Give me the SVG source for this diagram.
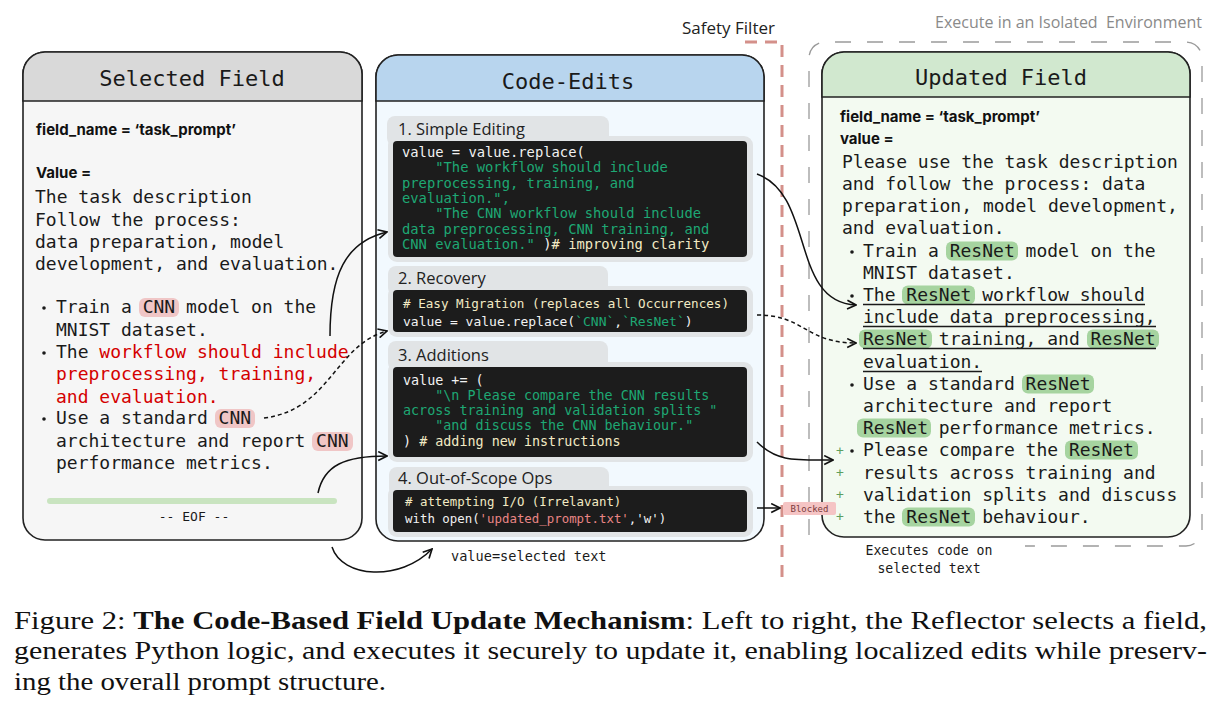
<svg xmlns="http://www.w3.org/2000/svg" width="1222" height="720" viewBox="0 0 1222 720">
<style>
.mono{font-family:"DejaVu Sans Mono","Liberation Mono",monospace;fill:#1a1a1a;white-space:pre}
.body{font-size:18px}
.title{font-size:22px;text-anchor:middle}
.bold{font-family:Inter,"Liberation Sans",sans-serif;font-weight:700;font-size:15px;fill:#111}
.tab{font-family:"Open Sans","Liberation Sans",sans-serif;font-size:16.5px;fill:#222}
.code{font-family:"DejaVu Sans Mono","Liberation Mono",monospace;fill:#f2f2f2;white-space:pre}
.g{fill:#1ea874}.c{fill:#f2eac4}.w{fill:#f2f2f2}.p{fill:#e98585}
.red{fill:#d40000}
.pnl{stroke:#222;stroke-width:1.6}
.sec{fill:#e1e4e6}
.box{fill:#1c1c1c}
.hlr{fill:#f0c6c6}
.hlg{fill:#a6d4a0}
.conn{fill:none;stroke:#111;stroke-width:1.5}
.dash{stroke-dasharray:4 3}
.ul{stroke:#1a1a1a;stroke-width:1.3}
.plus{font-family:"DejaVu Sans Mono",monospace;font-size:13px;fill:#5e9e5e}
.cap{font-family:"Liberation Serif","Times New Roman",serif;font-size:26px;fill:#111}
</style>
<defs>
<marker id="arr" viewBox="0 0 10 10" refX="9" refY="5" markerWidth="11" markerHeight="11" markerUnits="userSpaceOnUse" orient="auto">
<path d="M1,1 L9,5 L1,9" fill="none" stroke="#111" stroke-width="1.5"/>
</marker>
</defs>
<rect width="1222" height="720" fill="#fff"/>

<g id="safety-filter">
<text x="682" y="34" font-family="'Open Sans','Liberation Sans',sans-serif" font-size="17" fill="#222">Safety Filter</text>
<path d="M745,42 H782 V580" fill="none" stroke="#d4908a" stroke-width="3" stroke-dasharray="12 8"/>
</g>

<g id="isolated-env">
<text x="1202" y="28" text-anchor="end" font-family="'Open Sans','Liberation Sans',sans-serif" font-size="16" fill="#8a8a8a" style="white-space:pre" xml:space="preserve">Execute in an Isolated  Environment</text>
<path d="M809,535 V58 A16,16 0 0 1 825,42 H1186 A16,16 0 0 1 1202,58 V530 A16,16 0 0 1 1186,546 H1025" fill="none" stroke="#9a9a9a" stroke-width="1.3" stroke-dasharray="16 16"/>
</g>

<g id="selected-field">
<rect class="pnl" x="23" y="52" width="339" height="488" rx="22" fill="#f6f6f6"/>
<path class="pnl" d="M23,101 V74 A22,22 0 0 1 45,52 H340 A22,22 0 0 1 362,74 V101 Z" fill="#d9d9d9"/>
<text class="mono title" x="192" y="86">Selected Field</text>
<text class="bold" x="36" y="135">field_name = ‘task_prompt’</text>
<text class="bold" x="36" y="178">Value =</text>
<text class="mono body" x="35" y="203">The task description</text>
<text class="mono body" x="35" y="225.5">Follow the process:</text>
<text class="mono body" x="35" y="248">data preparation, model</text>
<text class="mono body" x="35" y="270">development, and evaluation.</text>
<rect class="hlr" x="139" y="298" width="40" height="19" rx="6"/>
<rect class="hlr" x="215" y="409" width="40" height="19" rx="6"/>
<rect class="hlr" x="312" y="432" width="41" height="19" rx="6"/>
<circle cx="44" cy="308" r="1.8" fill="#1a1a1a"/>
<circle cx="44" cy="353" r="1.8" fill="#1a1a1a"/>
<circle cx="44" cy="419" r="1.8" fill="#1a1a1a"/>
<text class="mono body" x="56" y="313">Train a CNN model on the</text>
<text class="mono body" x="56" y="336">MNIST dataset.</text>
<text class="mono body" x="56" y="358">The <tspan class="red">workflow should include</tspan></text>
<text class="mono body red" x="56" y="380">preprocessing, training,</text>
<text class="mono body red" x="56" y="403">and evaluation.</text>
<text class="mono body" x="56" y="424">Use a standard CNN</text>
<text class="mono body" x="56" y="447">architecture and report CNN</text>
<text class="mono body" x="56" y="469">performance metrics.</text>
<rect x="47" y="498" width="290" height="6" rx="3" fill="#c9e4c0"/>
<text class="mono" x="194" y="521" font-size="13" text-anchor="middle">-- EOF --</text>
</g>

<g id="code-edits">
<rect class="pnl" x="376" y="55" width="388" height="486" rx="22" fill="#f2f9fe"/>
<path class="pnl" d="M376,101 V77 A22,22 0 0 1 398,55 H742 A22,22 0 0 1 764,77 V101 Z" fill="#b8d5ee"/>
<text class="mono title" x="568" y="89">Code-Edits</text>

<g id="sec1">
<rect class="sec" x="387" y="116" width="222" height="30" rx="8"/>
<rect class="sec" x="388" y="136" width="365" height="126" rx="9"/>
<rect class="box" x="393" y="141" width="354" height="116" rx="4"/>
<text class="tab" x="398" y="134.5">1. Simple Editing</text>
<g font-size="13.8">
<text class="code" x="402" y="157">value = value.replace(</text>
<text class="code g" x="402" y="172.3">    "The workflow should include</text>
<text class="code g" x="402" y="187.6">preprocessing, training, and</text>
<text class="code g" x="402" y="202.9">evaluation.",</text>
<text class="code g" x="402" y="218.2">    "The CNN workflow should include</text>
<text class="code g" x="402" y="233.5">data preprocessing, CNN training, and</text>
<text class="code" x="402" y="248.8"><tspan class="g">CNN evaluation." </tspan><tspan class="w">)</tspan><tspan class="c"># improving clarity</tspan></text>
</g>
</g>

<g id="sec2">
<rect class="sec" x="388" y="266" width="220" height="30" rx="8"/>
<rect class="sec" x="388" y="286" width="365" height="51" rx="9"/>
<rect class="box" x="393" y="290" width="354" height="42" rx="4"/>
<text class="tab" x="398" y="283.5">2. Recovery</text>
<text class="code c" x="403" y="307.5" font-size="12.6"># Easy Migration (replaces all Occurrences)</text>
<text class="code" x="403" y="325.5" font-size="13"><tspan class="w">value = value.replace(</tspan><tspan class="g">`CNN`</tspan><tspan class="w">,</tspan><tspan class="g">`ResNet`</tspan><tspan class="w">)</tspan></text>
</g>

<g id="sec3">
<rect class="sec" x="388" y="341" width="220" height="30" rx="8"/>
<rect class="sec" x="388" y="362" width="365" height="100" rx="9"/>
<rect class="box" x="393" y="367" width="354" height="90" rx="4"/>
<text class="tab" x="398" y="360.5">3. Additions</text>
<g font-size="13.4">
<text class="code" x="403" y="384.5">value += (</text>
<text class="code g" x="403" y="399.8">    "\n Please compare the CNN results</text>
<text class="code g" x="403" y="415.1">across training and validation splits "</text>
<text class="code g" x="403" y="430.4">    "and discuss the CNN behaviour."</text>
<text class="code" x="403" y="445.7"><tspan class="w">) </tspan><tspan class="c"># adding new instructions</tspan></text>
</g>
</g>

<g id="sec4">
<rect class="sec" x="389" y="467" width="220" height="30" rx="8"/>
<rect class="sec" x="388" y="486" width="365" height="51" rx="9"/>
<rect class="box" x="393" y="490" width="354" height="42" rx="4"/>
<text class="tab" x="398" y="483.5">4. Out-of-Scope Ops</text>
<text class="code c" x="405" y="505.5" font-size="12.4"># attempting I/O (Irrelavant)</text>
<text class="code" x="405" y="522.5" font-size="12.4"><tspan class="w">with open(</tspan><tspan class="p">'updated_prompt.txt'</tspan><tspan class="w">,'w')</tspan></text>
</g>
</g>

<g id="updated-field">
<rect class="pnl" x="822" y="52" width="368" height="485" rx="22" fill="#f3faf1"/>
<path class="pnl" d="M822,97 V74 A22,22 0 0 1 844,52 H1168 A22,22 0 0 1 1190,74 V97 Z" fill="#d1e8cf"/>
<text class="mono title" x="1001" y="85">Updated Field</text>
<text class="bold" x="840" y="122">field_name = ‘task_prompt’</text>
<text class="bold" x="840" y="144">value =</text>
<text class="mono body" x="842" y="168">Please use the task description</text>
<text class="mono body" x="842" y="190">and follow the process: data</text>
<text class="mono body" x="842" y="212">preparation, model development,</text>
<text class="mono body" x="842" y="234">and evaluation.</text>
<rect class="hlg" x="946" y="241.5" width="72" height="19" rx="6"/>
<rect class="hlg" x="902" y="285.5" width="73" height="19" rx="6"/>
<rect class="hlg" x="859" y="329.5" width="73" height="19" rx="6"/>
<rect class="hlg" x="1087" y="329.5" width="72" height="19" rx="6"/>
<rect class="hlg" x="1022" y="374.5" width="72" height="19" rx="6"/>
<rect class="hlg" x="857" y="418.5" width="74" height="19" rx="6"/>
<rect class="hlg" x="1065" y="440.5" width="73" height="19" rx="6"/>
<rect class="hlg" x="902" y="507.5" width="73" height="19" rx="6"/>
<circle cx="852" cy="252" r="1.8" fill="#1a1a1a"/>
<circle cx="852" cy="296" r="1.8" fill="#1a1a1a"/>
<circle cx="852" cy="385" r="1.8" fill="#1a1a1a"/>
<circle cx="852" cy="451" r="1.8" fill="#1a1a1a"/>
<text class="mono body" x="863" y="257">Train a ResNet model on the</text>
<text class="mono body" x="863" y="279">MNIST dataset.</text>
<text class="mono body" x="863" y="301">The ResNet workflow should</text>
<text class="mono body" x="863" y="323">include data preprocessing,</text>
<text class="mono body" x="863" y="345">ResNet training, and ResNet</text>
<text class="mono body" x="863" y="368">evaluation.</text>
<line class="ul" x1="863" y1="304.5" x2="1145" y2="304.5"/>
<line class="ul" x1="863" y1="326.5" x2="1156" y2="326.5"/>
<line class="ul" x1="863" y1="348.5" x2="1156" y2="348.5"/>
<line class="ul" x1="863" y1="371.5" x2="982" y2="371.5"/>
<text class="mono body" x="863" y="390">Use a standard ResNet</text>
<text class="mono body" x="863" y="412">architecture and report</text>
<text class="mono body" x="863" y="434">ResNet performance metrics.</text>
<text class="mono body" x="863" y="456">Please compare the ResNet</text>
<text class="mono body" x="863" y="479">results across training and</text>
<text class="mono body" x="863" y="501">validation splits and discuss</text>
<text class="mono body" x="863" y="523">the ResNet behaviour.</text>
<text class="plus" x="840" y="455" text-anchor="middle">+</text>
<text class="plus" x="840" y="477" text-anchor="middle">+</text>
<text class="plus" x="840" y="499" text-anchor="middle">+</text>
<text class="plus" x="840" y="521" text-anchor="middle">+</text>
</g>

<g id="blocked">
<rect x="783" y="502" width="53" height="13" rx="2" fill="#f5c4c4"/>
<text x="809.5" y="512" text-anchor="middle" font-family="'DejaVu Sans Mono',monospace" font-size="9" fill="#7a3b3b">Blocked</text>
</g>

<g id="connectors">
<path class="conn" d="M330,336 C330,275 345,242 387,232" marker-end="url(#arr)"/>
<path class="conn dash" d="M264,418 C330,410 335,345 387,331" marker-end="url(#arr)"/>
<path class="conn" d="M318,493 C324,465 345,456 387,456" marker-end="url(#arr)"/>
<path class="conn" d="M332,547 C342,578 400,582 432,549" marker-end="url(#arr)"/>
<path class="conn" d="M757,174 C815,195 790,302 856,305" marker-end="url(#arr)"/>
<path class="conn dash" d="M757,315 C805,315 805,343 856,343" marker-end="url(#arr)"/>
<path class="conn" d="M757,442 C777,462 795,460 833,460" marker-end="url(#arr)"/>
<path class="conn" d="M757,508 L780,508" marker-end="url(#arr)"/>
</g>

<g id="notes">
<text class="mono" x="451" y="561" font-size="13.6">value=selected text</text>
<text class="mono" x="929" y="555" font-size="13.2" text-anchor="middle">Executes code on</text>
<text class="mono" x="929" y="573" font-size="13.2" text-anchor="middle">selected text</text>
</g>

<g id="caption">
<text class="cap" x="14" y="629" textLength="1193" lengthAdjust="spacingAndGlyphs">Figure 2: <tspan font-weight="700">The Code-Based Field Update Mechanism</tspan>: Left to right, the Reflector selects a field,</text>
<text class="cap" x="14" y="659" textLength="1193" lengthAdjust="spacingAndGlyphs">generates Python logic, and executes it securely to update it, enabling localized edits while preserv-</text>
<text class="cap" x="14" y="690" textLength="372" lengthAdjust="spacingAndGlyphs">ing the overall prompt structure.</text>
</g>
</svg>
